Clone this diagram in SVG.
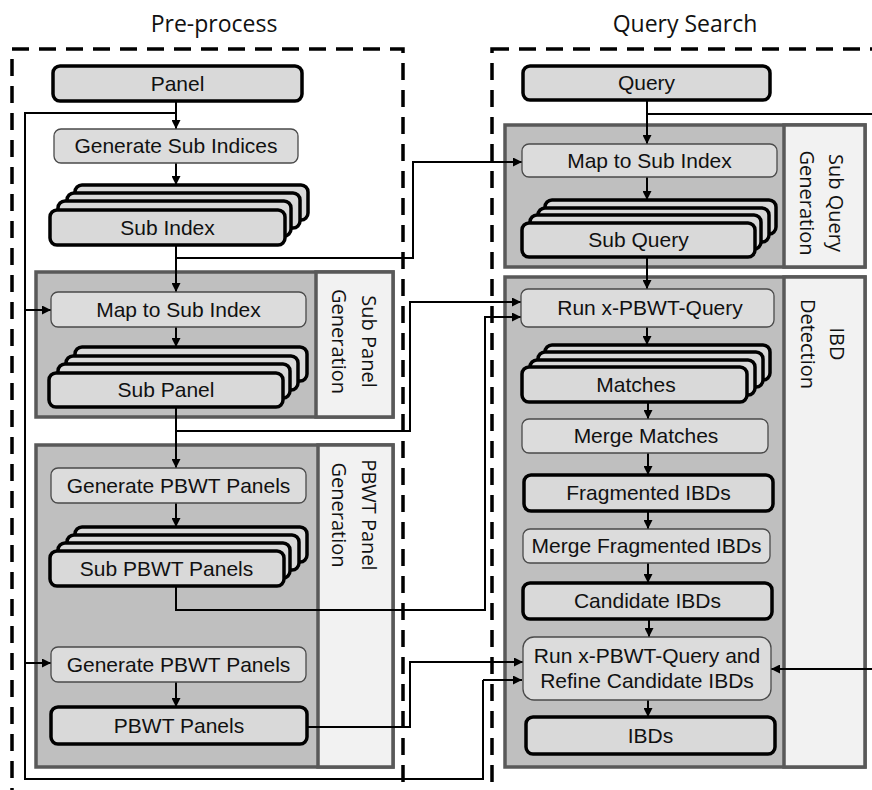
<svg xmlns="http://www.w3.org/2000/svg" width="872" height="790" viewBox="0 0 872 790">
<defs>
<marker id="ah" markerUnits="userSpaceOnUse" markerWidth="9" markerHeight="9" refX="9" refY="4.5" orient="auto">
<path d="M0,0 L9,4.5 L0,9 z" fill="#000"/>
</marker>
<style>
.dash{fill:none;stroke:#000;stroke-width:3.5;stroke-dasharray:17 10}
.title{font-family:"Open Sans","Noto Sans",sans-serif;font-size:23px;fill:#111;text-anchor:middle}
.grp{fill:#bfbfbf;stroke:#595959;stroke-width:3.5}
.lab{fill:#f2f2f2;stroke:#595959;stroke-width:3.5}
.labt{font-family:"Open Sans","Noto Sans",sans-serif;font-size:20px;fill:#111;text-anchor:middle}
.thin{fill:#dcdcdc;stroke:#4a4a4a;stroke-width:1.3}
.thick{fill:#d9d9d9;stroke:#000;stroke-width:3.5}
.t{font-family:"Liberation Sans",Arial,sans-serif;font-size:21px;fill:#111;text-anchor:middle}
.c{fill:none;stroke:#000;stroke-width:2}
.a{fill:none;stroke:#000;stroke-width:2;marker-end:url(#ah)}
</style>
</defs>
<rect width="872" height="790" fill="#fff"/>

<g id="preprocess">
<text class="title" x="214" y="32">Pre-process</text>
<rect class="dash" x="12" y="49" width="391" height="743"/>
</g>
<g id="querysearch">
<text class="title" x="685" y="32">Query Search</text>
<rect class="dash" x="492" y="49" width="420" height="743"/>
</g>

<g id="subpanelgen">
<rect class="grp" x="36" y="272" width="357" height="145"/>
<rect class="lab" x="316" y="272" width="77" height="145"/>
<text class="labt" transform="translate(362,341.5) rotate(90)"><tspan x="0" y="0">Sub Panel</tspan><tspan x="0" y="30">Generation</tspan></text>
</g>
<g id="pbwtpanelgen">
<rect class="grp" x="36" y="445" width="357" height="322"/>
<rect class="lab" x="318" y="445" width="75" height="322"/>
<text class="labt" transform="translate(362,515) rotate(90)"><tspan x="0" y="0">PBWT Panel</tspan><tspan x="0" y="30">Generation</tspan></text>
</g>
<g id="subquerygen">
<rect class="grp" x="505" y="125" width="360" height="142"/>
<rect class="lab" x="784" y="125" width="81" height="142"/>
<text class="labt" transform="translate(829,203) rotate(90)"><tspan x="0" y="0">Sub Query</tspan><tspan x="0" y="29">Generation</tspan></text>
</g>
<g id="ibddetection">
<rect class="grp" x="505" y="277" width="360" height="490"/>
<rect class="lab" x="784" y="277" width="81" height="490"/>
<text class="labt" transform="translate(830,344) rotate(90)"><tspan x="0" y="0">IBD</tspan><tspan x="0" y="29">Detection</tspan></text>
</g>

<g id="connectors">
<path class="a" d="M176,101 V129"/>
<path class="c" d="M176,113 H25 V779 H483 V680"/>
<path class="a" d="M483,680 H522"/>
<path class="a" d="M25,310 H51"/>
<path class="a" d="M25,663 H51"/>
<path class="a" d="M176,163 V185"/>
<path class="a" d="M176,245 V292"/>
<path class="a" d="M176,258 H413 V162 H522"/>
<path class="a" d="M176,327 V347"/>
<path class="a" d="M176,407 V468"/>
<path class="a" d="M176,431 H410 V302 H521"/>
<path class="a" d="M176,503 V527"/>
<path class="a" d="M176,586 V610 H485 V317 H521"/>
<path class="a" d="M176,682 V707"/>
<path class="a" d="M307,727 H410 V662 H523"/>
<path class="a" d="M647,100 V144"/>
<path class="c" d="M647,114 H872"/>
<path class="a" d="M872,669 H771"/>
<path class="a" d="M647,177 V200"/>
<path class="a" d="M647,257 V289"/>
<path class="a" d="M647,327 V345"/>
<path class="a" d="M648,402 V419"/>
<path class="a" d="M648,453 V475"/>
<path class="a" d="M648,511 V529"/>
<path class="a" d="M648,563 V583"/>
<path class="a" d="M649,619 V637"/>
<path class="a" d="M648,700 V717"/>
</g>

<g id="panel">
<rect class="thick" x="53" y="66" width="249" height="35" rx="7"/>
<text class="t" x="177.5" y="91">Panel</text>
</g>
<g id="gensubindices">
<rect class="thin" x="54" y="129" width="244" height="34" rx="7"/>
<text class="t" x="176" y="153">Generate Sub Indices</text>
</g>
<g id="subindex">
<rect class="thick" x="75" y="185" width="233" height="35" rx="7"/>
<rect class="thick" x="67" y="193" width="233" height="35" rx="7"/>
<rect class="thick" x="58" y="201" width="233" height="35" rx="7"/>
<rect class="thick" x="50" y="210" width="235" height="35" rx="7"/>
<text class="t" x="167.5" y="234.5">Sub Index</text>
</g>
<g id="maptosubindex-l">
<rect class="thin" x="51" y="292" width="255" height="35" rx="7"/>
<text class="t" x="178.5" y="316.5">Map to Sub Index</text>
</g>
<g id="subpanel">
<rect class="thick" x="75" y="347" width="232" height="34" rx="7"/>
<rect class="thick" x="66" y="356" width="232" height="34" rx="7"/>
<rect class="thick" x="58" y="364" width="232" height="34" rx="7"/>
<rect class="thick" x="49" y="373" width="234" height="34" rx="7"/>
<text class="t" x="166" y="397">Sub Panel</text>
</g>
<g id="genpbwt1">
<rect class="thin" x="51" y="468" width="255" height="35" rx="7"/>
<text class="t" x="178.5" y="492.5">Generate PBWT Panels</text>
</g>
<g id="subpbwtpanels">
<rect class="thick" x="75" y="527" width="232" height="35" rx="7"/>
<rect class="thick" x="67" y="535" width="232" height="35" rx="7"/>
<rect class="thick" x="58" y="543" width="232" height="35" rx="7"/>
<rect class="thick" x="50" y="551" width="234" height="35" rx="7"/>
<text class="t" x="166.5" y="575.5">Sub PBWT Panels</text>
</g>
<g id="genpbwt2">
<rect class="thin" x="51" y="647" width="255" height="35" rx="7"/>
<text class="t" x="178.5" y="671.5">Generate PBWT Panels</text>
</g>
<g id="pbwtpanels">
<rect class="thick" x="51" y="707" width="256" height="37" rx="7"/>
<text class="t" x="179" y="733">PBWT Panels</text>
</g>

<g id="query">
<rect class="thick" x="523" y="66" width="247" height="34" rx="7"/>
<text class="t" x="646.5" y="90">Query</text>
</g>
<g id="maptosubindex-r">
<rect class="thin" x="522" y="144" width="255" height="33" rx="7"/>
<text class="t" x="649.5" y="168">Map to Sub Index</text>
</g>
<g id="subquery">
<rect class="thick" x="545" y="200" width="231" height="34" rx="7"/>
<rect class="thick" x="538" y="208" width="231" height="34" rx="7"/>
<rect class="thick" x="530" y="215" width="231" height="34" rx="7"/>
<rect class="thick" x="522" y="223" width="233" height="34" rx="7"/>
<text class="t" x="638.5" y="247">Sub Query</text>
</g>
<g id="runquery">
<rect class="thin" x="521" y="289" width="253" height="38" rx="7"/>
<text class="t" x="650" y="315">Run x-PBWT-Query</text>
</g>
<g id="matches">
<rect class="thick" x="545" y="345" width="225" height="35" rx="7"/>
<rect class="thick" x="538" y="352" width="225" height="35" rx="7"/>
<rect class="thick" x="530" y="360" width="225" height="35" rx="7"/>
<rect class="thick" x="522" y="367" width="225" height="35" rx="7"/>
<text class="t" x="636" y="392">Matches</text>
</g>
<g id="mergematches">
<rect class="thin" x="522" y="419" width="246" height="34" rx="7"/>
<text class="t" x="646" y="443">Merge Matches</text>
</g>
<g id="fragmentedibds">
<rect class="thick" x="524" y="475" width="249" height="36" rx="7"/>
<text class="t" x="648.5" y="500">Fragmented IBDs</text>
</g>
<g id="mergefragmented">
<rect class="thin" x="523" y="529" width="247" height="34" rx="7"/>
<text class="t" x="646.5" y="553">Merge Fragmented IBDs</text>
</g>
<g id="candidateibds">
<rect class="thick" x="523" y="583" width="249" height="36" rx="7"/>
<text class="t" x="647.5" y="608">Candidate IBDs</text>
</g>
<g id="refine">
<rect class="thin" x="523" y="637" width="248" height="63" rx="11"/>
<text class="t" x="647" y="663">Run x-PBWT-Query and</text>
<text class="t" x="647" y="688">Refine Candidate IBDs</text>
</g>
<g id="ibds">
<rect class="thick" x="526" y="717" width="249" height="37" rx="7"/>
<text class="t" x="650.5" y="743">IBDs</text>
</g>
</svg>
